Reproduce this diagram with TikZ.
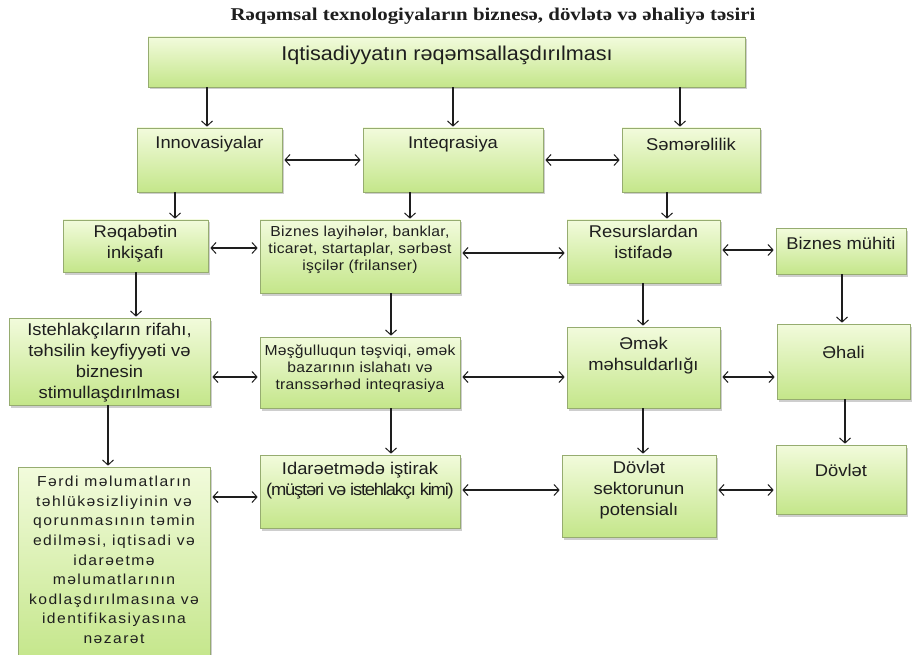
\documentclass[tikz,border=0pt]{standalone}
\usepackage{fontspec}
\setmainfont{Liberation Sans}[FakeStretch=1.08]
\newfontfamily\titlefont{Liberation Serif}
\usetikzlibrary{arrows.meta,shadows,fit}
\definecolor{gtop}{RGB}{242,251,220}
\definecolor{gbot}{RGB}{196,230,138}
\definecolor{bord}{RGB}{150,172,112}
\definecolor{ink}{RGB}{30,30,30}
\newcommand\fBig{\fontsize{17}{21}\selectfont}
\newcommand\fTop{\fontsize{20}{24}\selectfont}
\newcommand\fSmall{\fontsize{14.5}{17}\selectfont\addfontfeature{LetterSpace=2}}
\newcommand\fLong{\fontsize{14.5}{19.6}\selectfont\addfontfeature{LetterSpace=10}}
\newcommand\fTight{\addfontfeature{LetterSpace=-7}}
\begin{document}
\begin{tikzpicture}[x=1pt,y=-1pt,
  box/.style={draw=bord, line width=0.7pt, top color=gtop, bottom color=gbot,
    inner sep=0pt, drop shadow={shadow xshift=2pt,shadow yshift=-2.5pt,opacity=0.35,fill=black!55}},
  txt/.style={inner sep=0pt, align=center, font=\fBig, text=ink},
  tip/.tip={Straight Barb[length=5pt,width=11pt,line width=1pt]},
  link/.style={line width=1.1pt, draw=ink, -tip, shorten >=1pt},
  dlink/.style={line width=1.1pt, draw=ink, tip-tip, shorten >=2pt, shorten <=2pt}]
\useasboundingbox (0,0) rectangle (918,655);
\fill[white] (0,0) rectangle (918,655);

% title
\node[inner sep=0pt, font=\titlefont\bfseries\fontsize{18}{21}\selectfont, text=ink] (T) at (493,16)
  {\scalebox{1.16}[1]{Rəqəmsal texnologiyaların biznesə, dövlətə və əhaliyə təsiri}};

% boxes
\node[box, fit={(148,37)(745,87)}] (A) {};
\node[box, fit={(137,128)(282,192)}] (B1) {};
\node[box, fit={(363,128)(543,192)}] (B2) {};
\node[box, fit={(622,128)(760,192)}] (B3) {};
\node[box, fit={(63,220)(208,272)}] (C1) {};
\node[box, fit={(260,220)(460,293)}] (C2) {};
\node[box, fit={(567,220)(720,283)}] (C3) {};
\node[box, fit={(776,228)(906,274)}] (C4) {};
\node[box, fit={(9,318)(210,405)}] (D1) {};
\node[box, fit={(260,337)(460,408)}] (D2) {};
\node[box, fit={(567,327)(720,408)}] (D3) {};
\node[box, fit={(777,324)(910,399)}] (D4) {};
\node[box, fit={(18,467)(210,662)}] (E1) {};
\node[box, fit={(260,455)(460,528)}] (E2) {};
\node[box, fit={(562,455)(716,537)}] (E3) {};
\node[box, fit={(776,445)(906,514)}] (E4) {};

% texts
\node[txt, font=\fTop] (At) at (447,55) {Iqtisadiyyatın rəqəmsallaşdırılması};
\node[txt] (B1t) at (B1.center |- 0,144) {Innovasiyalar};
\node[txt] (B2t) at (B2.center |- 0,144) {Inteqrasiya};
\node[txt] (B3t) at (B3.center |- 0,144) {Səmərəlilik};
\node[txt] (C1t) at (C1.center |- 0,244) {Rəqabətin\\inkişafı};
\node[txt, font=\fSmall] (C2t) at (C2.center |- 0,250) {Biznes layihələr, banklar,\\ticarət, startaplar, sərbəst\\işçilər (frilanser)};
\node[txt] (C3t) at (C3.center |- 0,242) {Resurslardan\\istifadə};
\node[txt] (C4t) at (C4.center |- 0,243) {Biznes mühiti};
\node[txt] (D1t) at (D1.center |- 0,363) {Istehlakçıların rifahı,\\təhsilin keyfiyyəti və\\biznesin\\stimullaşdırılması};
\node[txt, font=\fSmall] (D2t) at (D2.center |- 0,369) {Məşğulluqun təşviqi, əmək\\bazarının islahatı və\\transsərhəd inteqrasiya};
\node[txt] (D3t) at (D3.center |- 0,356) {Əmək\\məhsuldarlığı};
\node[txt] (D4t) at (D4.center |- 0,352) {Əhali};
\node[txt, font=\fLong] (E1t) at (E1.center |- 0,560) {Fərdi məlumatların\\təhlükəsizliyinin və\\qorunmasının təmin\\edilməsi, iqtisadi və\\idarəetmə\\məlumatlarının\\kodlaşdırılmasına və\\identifikasiyasına\\nəzarət};
\node[txt] (E2t) at (E2.center |- 0,481) {Idarəetmədə iştirak\\{\fTight(müştəri və istehlakçı kimi)}};
\node[txt] (E3t) at (E3.center |- 0,490) {Dövlət\\sektorunun\\potensialı};
\node[txt] (E4t) at (E4.center |- 0,470) {Dövlət};

% x positions of vertical connectors
\coordinate (v1) at (207,0);
\coordinate (v2) at (453,0);
\coordinate (v3) at (680,0);
\coordinate (v4) at (175,0);
\coordinate (v5) at (410,0);
\coordinate (v6) at (667,0);
\coordinate (v7) at (136,0);
\coordinate (v8) at (391,0);
\coordinate (v9) at (643,0);
\coordinate (v10) at (842,0);
\coordinate (v11) at (108,0);
\coordinate (v12) at (845,0);

\draw[link] (A.south -| v1) -- (B1.north -| v1);
\draw[link] (A.south -| v2) -- (B2.north -| v2);
\draw[link] (A.south -| v3) -- (B3.north -| v3);
\draw[link] (B1.south -| v4) -- (C1.north -| v4);
\draw[link] (B2.south -| v5) -- (C2.north -| v5);
\draw[link] (B3.south -| v6) -- (C3.north -| v6);
\draw[link] (C1.south -| v7) -- (D1.north -| v7);
\draw[link] (C2.south -| v8) -- (D2.north -| v8);
\draw[link] (C3.south -| v9) -- (D3.north -| v9);
\draw[link] (C4.south -| v10) -- (D4.north -| v10);
\draw[link] (D1.south -| v11) -- (E1.north -| v11);
\draw[link] (D2.south -| v8) -- (E2.north -| v8);
\draw[link] (D3.south -| v9) -- (E3.north -| v9);
\draw[link] (D4.south -| v12) -- (E4.north -| v12);

% y positions of horizontal connectors
\coordinate (h1) at (0,160);
\coordinate (h2) at (0,248);
\coordinate (h3) at (0,253);
\coordinate (h4) at (0,250);
\coordinate (h5) at (0,377);
\coordinate (h6) at (0,497);
\coordinate (h7) at (0,490);

\draw[dlink] (B1.east |- h1) -- (B2.west |- h1);
\draw[dlink] (B2.east |- h1) -- (B3.west |- h1);
\draw[dlink] (C1.east |- h2) -- (C2.west |- h2);
\draw[dlink] (C2.east |- h3) -- (C3.west |- h3);
\draw[dlink] (C3.east |- h4) -- (C4.west |- h4);
\draw[dlink] (D1.east |- h5) -- (D2.west |- h5);
\draw[dlink] (D2.east |- h5) -- (D3.west |- h5);
\draw[dlink] (D3.east |- h5) -- (D4.west |- h5);
\draw[dlink] (E1.east |- h6) -- (E2.west |- h6);
\draw[dlink] (E2.east |- h7) -- (E3.west |- h7);
\draw[dlink] (E3.east |- h7) -- (E4.west |- h7);
\end{tikzpicture}
\end{document}
